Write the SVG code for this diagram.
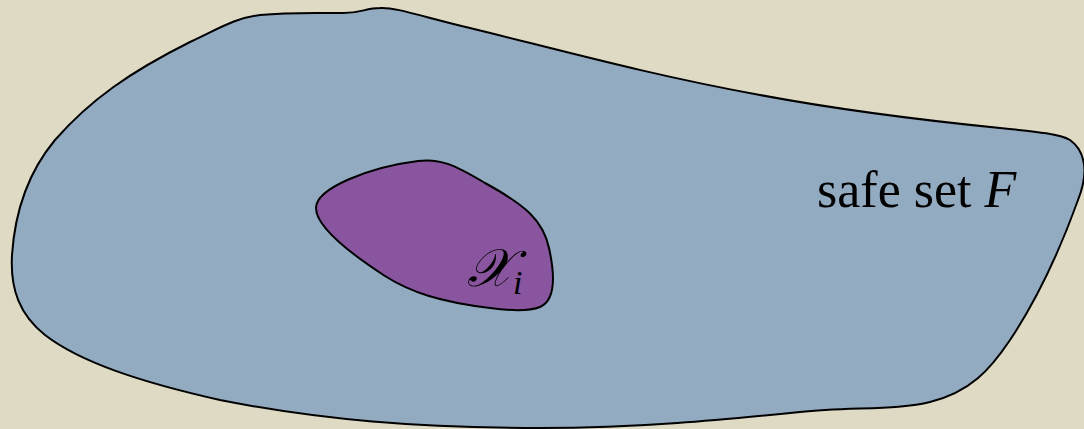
<svg xmlns="http://www.w3.org/2000/svg" width="1084" height="429" viewBox="0 0 1084 429">
<style>
.outline{stroke:#000;stroke-width:2;stroke-linejoin:round}
.lbl{font-family:"Liberation Serif","Times New Roman",serif;fill:#000}
</style>
<rect width="1084" height="429" fill="#dedac4"/>
<g id="safe-set">
<path class="outline" fill="#93abc0" d="M 380,8 C 365,8 360,14 340,13 C 320,13 290,12 260,15 C 235,18 220,28 190,42 C 130,72 90,100 55,140 C 30,170 15,210 12,255 C 10,290 20,315 45,335 C 80,362 140,382 220,400 C 320,420 420,428 540,428 C 640,428 720,420 800,412 C 850,407 900,410 930,402 C 970,392 990,370 1010,340 C 1040,295 1060,250 1078,200 C 1090,170 1084,150 1070,140 C 1060,134 1040,132 1000,128 C 920,120 840,110 760,95 C 650,75 560,50 470,28 C 420,16 395,7 380,8 Z"/>
<text class="lbl" x="817" y="207" font-size="52">safe set <tspan font-style="italic">F</tspan></text>
</g>
<g id="x-i">
<path class="outline" fill="#89559e" d="M 316,208 C 316,188 370,167 418,161 C 440,158 455,165 485,183 C 525,205 543,220 549,248 C 555,275 556,300 540,307 C 530,311 512,311 490,308 C 440,302 410,292 385,276 C 345,250 316,225 316,208 Z"/>
<text class="lbl" x="467" y="286" font-size="53" font-style="italic">𝒳<tspan font-family="Liberation Serif" font-style="italic" font-size="34" dy="8">i</tspan></text>
</g>
<g id="connectors"/>
</svg>
